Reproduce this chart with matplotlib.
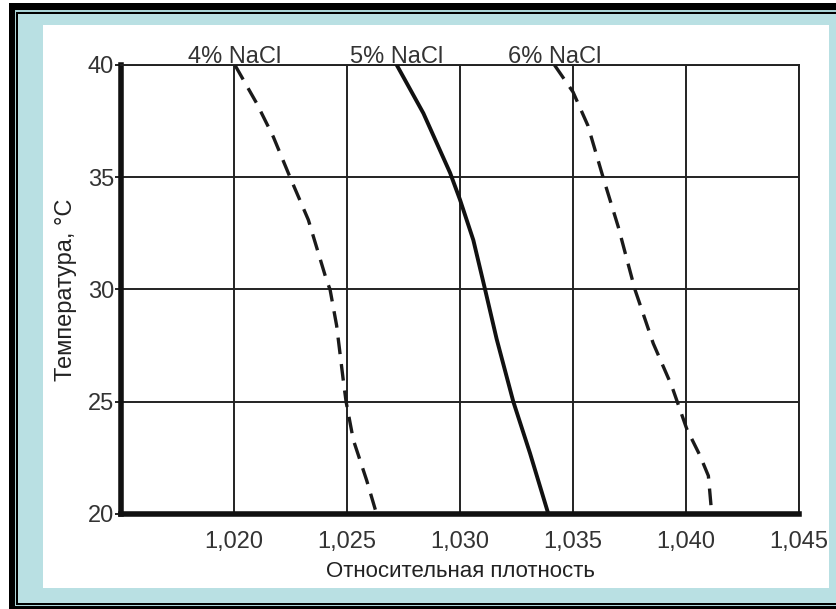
import matplotlib
matplotlib.use("Agg")
import matplotlib.pyplot as plt
from matplotlib.patches import Rectangle
from matplotlib.ticker import FuncFormatter

# data: relative density vs temperature
t_4 = [40, 38.3, 36.8, 35, 33.1, 30.4, 30, 28.4, 26, 25, 23.3, 21.5, 20]
d_4 = [1.02004, 1.0210, 1.02174, 1.02248, 1.02329, 1.0241, 1.02425, 1.02454,
       1.02483, 1.02496, 1.02528, 1.02587, 1.02631]

t_5 = [40, 37.85, 35.2, 34, 32.2, 30, 27.8, 25, 22.7, 20]
d_5 = [1.0272, 1.02838, 1.02956, 1.0300, 1.03059, 1.03111, 1.03162, 1.03236,
       1.0331, 1.03391]

t_6 = [40, 38.8, 37.3, 35, 32.8, 30, 27.6, 25.7, 23.8, 22.6, 21.7, 20]
d_6 = [1.03418, 1.035, 1.03566, 1.03633, 1.037, 1.03774, 1.03855, 1.03937,
       1.04003, 1.04062, 1.04099, 1.04114]

labels = ["4% NaCl", "5% NaCl", "6% NaCl"]
x_ticks = [1.020, 1.025, 1.030, 1.035, 1.040, 1.045]
y_ticks = [20, 25, 30, 35, 40]

W, H = 836, 609
fig = plt.figure(figsize=(W / 100, H / 100), dpi=100)
fig.patch.set_facecolor("white")

def box(x0, y0, x1, y1, color):
    # pixel box, y measured from top
    r = Rectangle((x0 / W, 1 - y1 / H), (x1 - x0) / W, (y1 - y0) / H,
                  transform=fig.transFigure, facecolor=color, edgecolor="none",
                  zorder=-10)
    fig.patches.append(r)

# frame round the picture
box(9, 3, 840, 612, "black")
box(15, 10, 840, 606, "#a9d3d6")
box(16, 12, 840, 605, "black")
box(18, 14, 840, 603, "#b9e0e3")
box(43, 25, 829, 588, "white")

ax = fig.add_axes([121 / W, 1 - 514 / H, (799 - 121) / W, (514 - 65) / H])
ax.set_facecolor("none")

ax.plot(d_4, t_4, color="#1a1a1a", lw=2.4, ls=(0, (5, 3)), zorder=3)
ax.plot(d_5, t_5, color="#111111", lw=2.8, zorder=3)
ax.plot(d_6, t_6, color="#1a1a1a", lw=2.4, ls=(0, (5, 3)), zorder=3)

ax.set_xlim(1.015, 1.045)
ax.set_ylim(20, 40)
ax.set_xticks(x_ticks)
ax.set_yticks(y_ticks)
ax.xaxis.set_major_formatter(FuncFormatter(lambda v, p: ("%.3f" % v).replace(".", ",")))
ax.grid(True, color="#222222", lw=1.4)
ax.set_axisbelow(True)

sans = ["Liberation Sans", "DejaVu Sans"]
for lab in ax.get_xticklabels() + ax.get_yticklabels():
    lab.set_fontfamily(sans)
    lab.set_fontsize(17)
    lab.set_color("#333333")
ax.tick_params(axis="x", length=0, pad=12)
ax.tick_params(axis="y", length=4, width=1.4, pad=1, color="#222222")

for side in ["top", "right"]:
    ax.spines[side].set_linewidth(1.4)
    ax.spines[side].set_color("#222222")
for side in ["left", "bottom"]:
    ax.spines[side].set_linewidth(4)
    ax.spines[side].set_color("#111111")

ax.set_xlabel("Относительная плотность", fontfamily=sans,
              fontsize=16, color="#222222", labelpad=6)
ax.set_ylabel("Температура, °С", fontfamily=sans, fontsize=17,
              color="#222222", labelpad=8)

for lab, d in zip(labels, [d_4[0], d_5[0], d_6[0]]):
    ax.annotate(lab, xy=(d, 40), xytext=(0, -2), textcoords="offset points",
                ha="center", va="bottom", fontfamily=sans, fontsize=17,
                color="#333333", annotation_clip=False)

fig.savefig("out.png", dpi=100)
